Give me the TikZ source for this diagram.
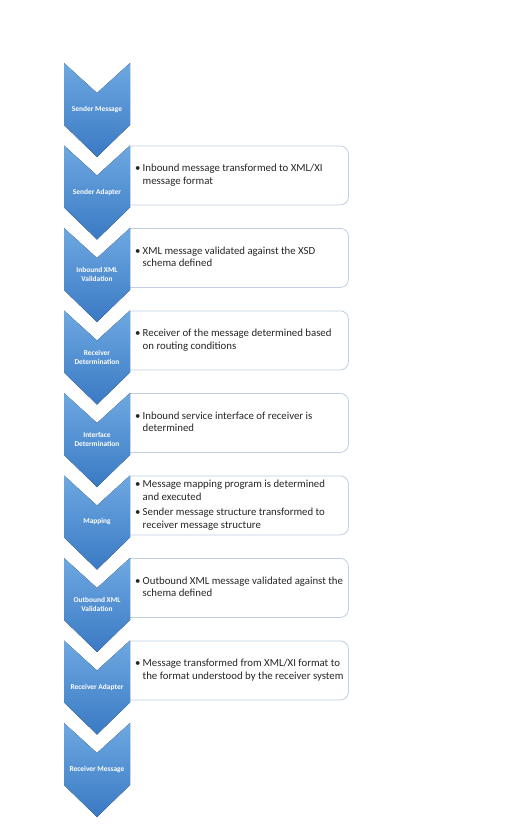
\documentclass[tikz,border=0pt]{standalone}
\usepackage{fontspec}
\setmainfont{Carlito}
\usetikzlibrary{positioning}
\definecolor{chevtop}{RGB}{110,168,225}
\definecolor{chevbot}{RGB}{58,122,196}
\definecolor{boxline}{RGB}{192,207,226}
\definecolor{infogray}{RGB}{38,38,38}
\tikzset{
  chevron/.style={top color=chevtop,bottom color=chevbot},
  stagelabel/.style={text=white,font=\bfseries\fontsize{7.4}{9}\selectfont,align=center,inner sep=0pt},
  infobox/.style={draw=boxline,fill=white,line width=0.8pt,rounded corners=8pt,
    minimum width=230pt,minimum height=59pt,inner sep=0pt},
  infotext/.style={text=infogray,font=\fontsize{10.8}{12.5}\selectfont,inner sep=0pt}
}
\begin{document}
\begin{tikzpicture}[x=1pt,y=-1pt]
\useasboundingbox (0,0) rectangle (510,840);
\pgfmathsetmacro{\gap}{82.5}
% text boxes
\foreach \i/\txt in {
  1/{\textbullet & Inbound message transformed to XML/XI\\ & message format},
  2/{\textbullet & XML message validated against the XSD\\ & schema defined},
  3/{\textbullet & Receiver of the message determined based\\ & on routing conditions},
  4/{\textbullet & Inbound service interface of receiver is\\ & determined},
  5/{\textbullet & Message mapping program is determined\\ & and executed\\[3pt]
     \textbullet & Sender message structure transformed to\\ & receiver message structure},
  6/{\textbullet & Outbound XML message validated against the\\ & schema defined},
  7/{\textbullet & Message transformed from XML/XI format to\\ & the format understood by the receiver system}}{
  \pgfmathsetmacro{\t}{63+\gap*\i}
  \begin{scope}
  \clip (130,0) rectangle (510,840);
  \node[infobox,anchor=north west] (box\i) at (118,\t) {};
  \end{scope}
  \node[infotext,right=17pt of box\i.west] (txt\i)
    {\begin{tabular}{@{}p{7.5pt}@{}l@{}}\txt\end{tabular}};
}
% chevrons
\foreach \i/\lab in {0/{Sender Message},1/{Sender Adapter},2/{Inbound XML\\Validation},
  3/{Receiver\\Determination},4/{Interface\\Determination},5/{Mapping},
  6/{Outbound XML\\Validation},7/{Receiver Adapter},8/{Receiver Message}}{
  \pgfmathsetmacro{\t}{63+\gap*\i}
  \fill[chevron] (64,\t)--(97,{\t+30})--(130,\t)--(130,{\t+62})
    --(97,{\t+94})--(64,{\t+62})--cycle;
  \node[stagelabel] (stage\i) at (97,{\t+46.5}) {\lab};
}
\end{tikzpicture}
\end{document}
